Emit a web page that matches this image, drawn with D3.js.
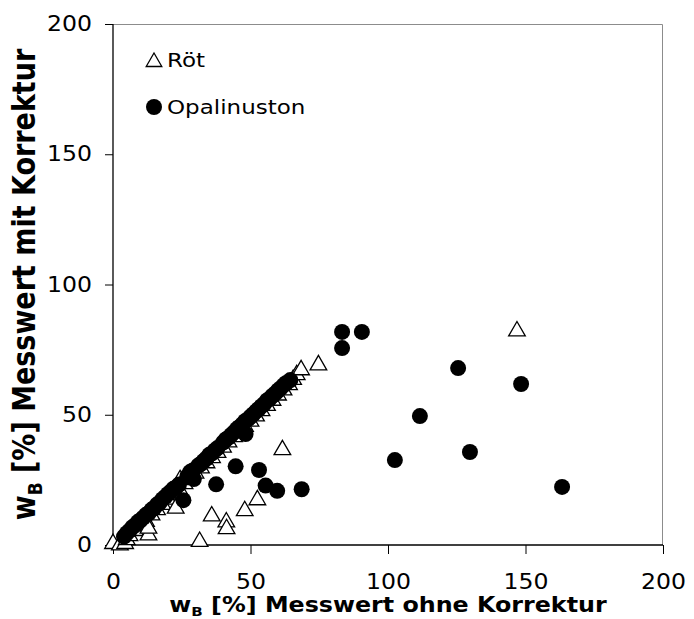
<!DOCTYPE html>
<html>
<head>
<meta charset="utf-8">
<script src="https://cdn.jsdelivr.net/npm/d3@7"></script>
<style>
  body { margin: 0; background: #fff; }
  text { font-family: "DejaVu Sans", Verdana, sans-serif; }
</style>
</head>
<body>
<svg id="chart" width="694" height="619"></svg>
<script>
// tick values
var xTicks = [0, 50, 100, 150, 200];
var yTicks = [0, 50, 100, 150, 200];

// Röt: [Messwert ohne Korrektur, Messwert mit Korrektur]
var roet = [
  [0, 0.5], [2.5, 0], [4.4, 0.5], [5, 2], [6, 3.5], [8, 5.5], [10, 7.5], [12, 9],
  [14, 11.5], [16, 13.5], [18, 15.5], [20, 17.5], [22, 19.5], [24, 21.5], [26, 23.5],
  [28, 25.5], [30, 27.5], [32, 29.5], [34, 31.5], [36, 33.5], [38, 35.5], [40, 37.5],
  [42, 39.5], [44, 41.5], [46, 43.5], [48, 45.5], [50, 47.5], [52, 49.5], [54, 51.5],
  [56, 53.5], [58, 55.5], [60, 57.5], [62, 59.5], [64, 61.5], [65.5, 63.5],
  [66.8, 65.3], [68.4, 67.2], [74.7, 69.1], [146.9, 82.1],
  [24.4, 25], [61.6, 36.5], [52.5, 17.3], [47.9, 13.1], [35.9, 11.1], [41.2, 8.8],
  [41.3, 6.2], [31.5, 1.3], [12.9, 3.8], [12.9, 6.4], [22.8, 14.1]
];

// Opalinuston
var opalinuston = [
  [4, 3.2], [5, 4.5], [6, 5.5], [7, 6.8], [8, 7.5], [9, 8.8], [10, 9.5], [11, 10.5],
  [12, 11.6], [13, 12.2], [14, 13.5], [15, 14.2], [16, 15.5], [17, 16.3], [18, 17.6],
  [19, 18.5], [20, 19.6], [21, 20.5], [22, 21.6], [23, 22.2], [24, 23.2], [27, 26.3],
  [28, 28], [29, 28.6], [31, 30.5], [32, 31.2], [33, 32.3], [34, 33.2], [35, 34.6],
  [36, 35.2], [37, 36.3], [38, 37.2], [40, 39.3], [41, 40.5], [42, 41.2], [43, 42.3],
  [44, 43.2], [45, 44.5], [46, 45.3], [47, 46.3], [48, 47.5], [49, 48.2], [50, 49.3],
  [51, 50.2], [52, 51.3], [53, 52.2], [54, 53.3], [55, 54.2], [56, 55.5], [57, 56.2],
  [58, 57.3], [59, 58.2], [60, 59.3], [61, 60.2], [62, 61.3], [63, 62.2], [64.5, 63.3],
  [48.2, 42.6], [44.6, 30.2], [53.1, 28.8], [37.5, 23.3], [55.5, 22.8], [59.7, 20.8],
  [68.6, 21.4], [29.4, 25.3], [25.6, 17.2],
  [83.3, 81.8], [83.3, 75.6], [90.5, 81.8], [102.5, 32.6], [111.6, 49.5],
  [125.5, 67.9], [129.8, 35.7], [148.4, 61.8], [163.3, 22.3]
];

var stretch = 1.15; // text in the original is a bit wider than DejaVu

var svg = d3.select("#chart"),
    margin = {top: 24, right: 31, bottom: 74, left: 113},
    width = +svg.attr("width") - margin.left - margin.right,
    height = +svg.attr("height") - margin.top - margin.bottom,
    g = svg.append("g").attr("transform", "translate(" + margin.left + "," + margin.top + ")");

var x = d3.scaleLinear().domain([0, 200]).range([0, width]);
var y = d3.scaleLinear().domain([0, 200]).range([height, 0]);

// plot area border (top + right)
g.append("path")
  .attr("d", "M0,0.5H" + (width - 0.5) + "V" + height)
  .attr("fill", "none")
  .attr("stroke", "#8c8c8c")
  .attr("stroke-width", 1);

var xAxis = g.append("g")
  .attr("transform", "translate(0," + height + ")")
  .call(d3.axisBottom(x).tickValues(xTicks).tickSize(9).tickPadding(20));
var yAxis = g.append("g")
  .call(d3.axisLeft(y).tickValues(yTicks).tickSize(8).tickPadding(13));

[xAxis, yAxis].forEach(function(a) {
  a.select(".domain").attr("stroke", "#000").attr("stroke-width", 1.3);
  a.selectAll(".tick line").attr("stroke", "#000");
  a.selectAll(".tick text")
    .style("font-family", "'DejaVu Sans', Verdana, sans-serif")
    .style("font-size", "20.5px")
    .attr("fill", "#000");
});
xAxis.select(".domain").attr("d", "M0,0H" + width);
yAxis.select(".domain").attr("d", "M0," + height + "V0");
xAxis.selectAll(".tick text").attr("transform", "scale(" + stretch + ",1)");
yAxis.selectAll(".tick text")
  .attr("x", -21 / stretch)
  .attr("transform", "scale(" + stretch + ",1)");

var tri = d3.symbol().type(d3.symbolTriangle).size(120);

g.append("g").selectAll("path")
  .data(roet)
  .enter().append("path")
    .attr("d", tri)
    .attr("transform", function(d) { return "translate(" + x(d[0]) + "," + y(d[1]) + ")"; })
    .attr("fill", "#fff")
    .attr("stroke", "#000")
    .attr("stroke-width", 1.3);

g.append("g").selectAll("circle")
  .data(opalinuston)
  .enter().append("circle")
    .attr("cx", function(d) { return x(d[0]); })
    .attr("cy", function(d) { return y(d[1]); })
    .attr("r", 8)
    .attr("fill", "#000");

// legend
var leg = svg.append("g");
leg.append("path")
  .attr("d", d3.symbol().type(d3.symbolTriangle).size(105))
  .attr("transform", "translate(154,62)")
  .attr("fill", "#fff").attr("stroke", "#000").attr("stroke-width", 1.3);
leg.append("text").attr("transform", "translate(167,67) scale(" + stretch + ",1)").text("Röt")
  .style("font-size", "20px");
leg.append("circle").attr("cx", 154).attr("cy", 107).attr("r", 8).attr("fill", "#000");
leg.append("text").attr("transform", "translate(167,114) scale(" + stretch + ",1)").text("Opalinuston")
  .style("font-size", "20px");

// axis titles
var xt = svg.append("text")
  .attr("transform", "translate(" + (margin.left + width / 2) + ",612) scale(1.16,1)")
  .attr("text-anchor", "middle")
  .style("font-size", "20.5px").style("font-weight", "bold");
xt.append("tspan").text("w");
xt.append("tspan").text("B").attr("dy", 4).style("font-size", "13px");
xt.append("tspan").text(" [%] Messwert ohne Korrektur").attr("dy", -4);

var yt = svg.append("text")
  .attr("transform", "translate(35," + (margin.top + height / 2) + ") scale(1.17,1) rotate(-90)")
  .attr("text-anchor", "middle")
  .style("font-size", "27px").style("font-weight", "bold");
yt.append("tspan").text("w");
yt.append("tspan").text("B").attr("dy", 6).style("font-size", "17px");
yt.append("tspan").text(" [%] Messwert mit Korrektur").attr("dy", -6);
</script>
</body>
</html>
